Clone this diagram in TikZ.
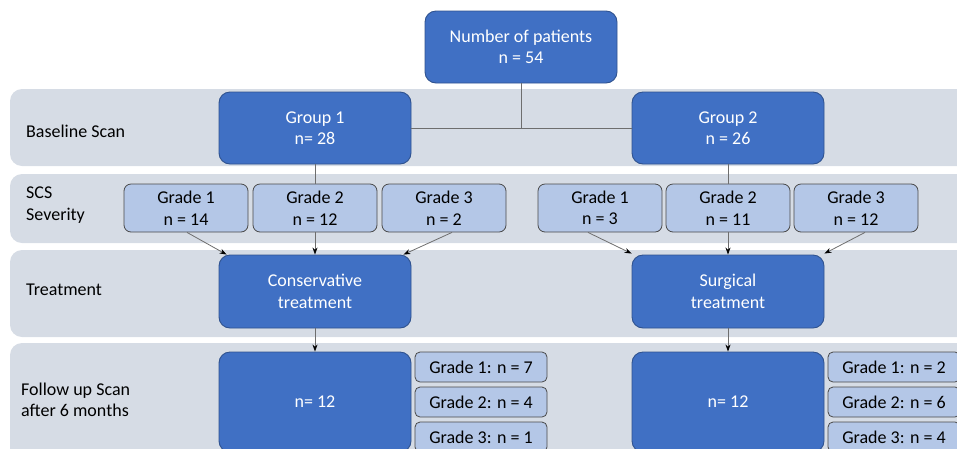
\documentclass[tikz,border=0pt]{standalone}
\usepackage{fontspec}
\setmainfont{Carlito}
\usetikzlibrary{arrows.meta,calc}
\definecolor{band}{HTML}{D6DCE5}
\definecolor{dark}{HTML}{4070C4}
\definecolor{darkb}{HTML}{2F528F}
\definecolor{light}{HTML}{B4C7E7}
\definecolor{lightb}{HTML}{4A4A4A}
\definecolor{conn}{HTML}{6E6E6E}
\tikzset{
  bandbox/.style={fill=band,draw=none,rounded corners=12pt},
  darkbox/.style={fill=dark,draw=darkb,line width=0.9pt,rounded corners=11pt,text=white,align=center,
    minimum width=192pt,minimum height=72pt,inner sep=0pt,font=\fontsize{18}{21.5}\selectfont},
  gradebox/.style={fill=light,draw=lightb,line width=0.8pt,rounded corners=7pt,text=black,align=center,
    minimum width=124pt,minimum height=48pt,inner sep=0pt,font=\fontsize{18}{21.5}\selectfont},
  smallbox/.style={fill=light,draw=lightb,line width=0.8pt,rounded corners=5pt,text=black,align=center,
    minimum width=132pt,minimum height=30pt,inner sep=0pt,font=\fontsize{18}{21.5}\selectfont},
  rowlabel/.style={anchor=west,align=left,inner sep=0pt,font=\fontsize{18}{21.5}\selectfont},
  line/.style={draw=conn,line width=0.8pt},
  arr/.style={draw=conn,line width=0.8pt,-{Stealth[length=7pt,width=5pt,color=black]}},
}
\begin{document}
\begin{tikzpicture}[x=1pt,y=-1pt]
\useasboundingbox (0,0) rectangle (957,448);
\clip (0,0) rectangle (957,448);
% bands
\path[bandbox] (10,89) rectangle (975,166);
\path[bandbox] (10,174) rectangle (975,243);
\path[bandbox] (10,250) rectangle (975,337);
\path[bandbox] (10,343) rectangle (975,470);
% row labels
\node[rowlabel] (lb1) at (26,131) {Baseline Scan};
\node[rowlabel] (lb2) at (26,205) {SCS\\Severity};
\node[rowlabel] (lb3) at (26,290) {Treatment};
\node[rowlabel] (lb4) at (21,400) {Follow up Scan\\after 6 months};
% nodes
\node[darkbox] (top) at (521,47) {Number of patients\\n = 54};
\node[darkbox] (g1) at (315,128) {Group 1\\n= 28};
\node[darkbox] (g2) at (728,128) {Group 2\\n = 26};
\node[gradebox] (a1) at (186,208) {Grade 1\\n = 14};
\node[gradebox] (a2) at (315,208) {Grade 2\\n = 12};
\node[gradebox] (a3) at (444,208) {Grade 3\\n = 2};
\node[gradebox] (b1) at (600,208) {Grade 1\\n = 3};
\node[gradebox] (b2) at (728,208) {Grade 2\\n = 11};
\node[gradebox] (b3) at (856,208) {Grade 3\\n = 12};
\node[darkbox,minimum height=73pt] (cons) at (315,291.5) {Conservative\\treatment};
\node[darkbox,minimum height=73pt] (surg) at (728,291.5) {Surgical\\treatment};
\node[darkbox,minimum height=100pt] (f1) at (315,402) {n= 12};
\node[darkbox,minimum height=100pt] (f2) at (728,402) {n= 12};
\node[smallbox] (c1) at (481,367) {Grade 1: n = 7};
\node[smallbox] (c2) at (481,402) {Grade 2: n = 4};
\node[smallbox] (c3) at (481,437) {Grade 3: n = 1};
\node[smallbox] (d1) at (894,367) {Grade 1: n = 2};
\node[smallbox] (d2) at (894,402) {Grade 2: n = 6};
\node[smallbox] (d3) at (894,437) {Grade 3: n = 4};
% connectors
\coordinate (mid) at (top.south |- g1.east);
\draw[line] (top.south) -- (mid);
\draw[line] (g1.east) -- (g2.west);
\draw[line] (g1.south) -- (a2.north);
\draw[line] (g2.south) -- (b2.north);
\draw[arr] ([xshift=1pt]a1.south) -- ([xshift=8pt,yshift=0pt]cons.north west);
\draw[arr] (a2.south) -- (cons.north);
\draw[arr] ([xshift=8pt]a3.south) -- ([xshift=-8pt,yshift=0pt]cons.north east);
\draw[arr] ([xshift=-12pt]b1.south) -- ([xshift=0pt,yshift=1pt]surg.north west);
\draw[arr] (b2.south) -- (surg.north);
\draw[arr] ([xshift=9pt]b3.south) -- ([xshift=-0pt,yshift=1pt]surg.north east);
\draw[arr] (cons.south) -- (f1.north);
\draw[arr] (surg.south) -- (f2.north);
\end{tikzpicture}
\end{document}
